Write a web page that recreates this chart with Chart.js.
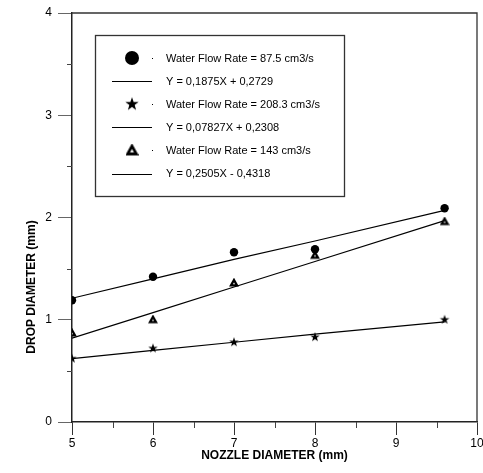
<!DOCTYPE html>
<html><head><meta charset="utf-8">
<script src="https://cdn.jsdelivr.net/npm/chart.js@4/dist/chart.umd.min.js"></script>
<style>html,body{margin:0;padding:0;background:#fff}canvas{display:block}</style>
</head><body>
<canvas id="c" width="483" height="473"></canvas>
<script>
// ---- data ----
const nozzleDiameters = [5, 6, 7, 8, 9.6];
const drop875 = [1.19, 1.42, 1.66, 1.69, 2.09];
const drop2083 = [0.62, 0.72, 0.78, 0.83, 1.00];
const drop143 = [0.87, 1.00, 1.36, 1.63, 1.96];
const fit875 = [1.21, 1.40, 1.59, 1.77, 2.07];
const fit2083 = [0.62, 0.70, 0.78, 0.86, 0.98];
const fit143 = [0.82, 1.07, 1.32, 1.57, 1.97];
const seriesLabels = [
  'Water Flow Rate = 87.5 cm3/s', 'Y = 0,1875X + 0,2729',
  'Water Flow Rate = 208.3 cm3/s', 'Y = 0,07827X + 0,2308',
  'Water Flow Rate = 143 cm3/s', 'Y = 0,2505X - 0,4318'
];
const xTitle = 'NOZZLE DIAMETER (mm)';
const yTitle = 'DROP DIAMETER (mm)';
const xMin = 5, xMax = 10, yMin = 0, yMax = 4;

function pts(xs, ys) { return xs.map((x, i) => ({x: x, y: ys[i]})); }

function starCanvas(R, r) {
  const s = Math.ceil(2 * R + 2);
  const c = document.createElement('canvas'); c.width = s; c.height = s;
  const g = c.getContext('2d'); g.fillStyle = '#000'; g.beginPath();
  for (let i = 0; i < 10; i++) {
    const a = -Math.PI / 2 + i * Math.PI / 5, rad = i % 2 ? r : R;
    g.lineTo(s / 2 + rad * Math.cos(a), s / 2 + rad * Math.sin(a));
  }
  g.closePath(); g.fill(); return c;
}
function triCanvas(h, lw) {
  const s = Math.ceil(2 * h + 4);
  const c = document.createElement('canvas'); c.width = s; c.height = s;
  const g = c.getContext('2d'); const m = s / 2;
  g.beginPath(); g.moveTo(m, m - h); g.lineTo(m + h, m + h * 0.8); g.lineTo(m - h, m + h * 0.8); g.closePath();
  g.fillStyle = '#fff'; g.fill(); g.lineWidth = lw; g.lineJoin = 'miter'; g.strokeStyle = '#000'; g.stroke();
  return c;
}
const plotStar = starCanvas(5, 2);
const legendStar = starCanvas(7, 2.8);
const plotTri = triCanvas(3, 2.3);
const legendTri = triCanvas(4.4, 2.8);

const FONT = '"Liberation Sans", Arial, sans-serif';

const decor = {
  id: 'decor',
  afterDraw(chart) {
    const ctx = chart.ctx, a = chart.chartArea;
    const xs = chart.scales.x, ys = chart.scales.y;
    ctx.save();
    ctx.strokeStyle = '#333'; ctx.lineWidth = 1.3;
    ctx.beginPath();
    ctx.moveTo(a.left, a.top); ctx.lineTo(a.right, a.top); ctx.lineTo(a.right, a.bottom);
    ctx.stroke();
    ctx.lineWidth = 1; ctx.strokeStyle = '#444';
    ctx.beginPath();
    for (let v = xMin + 0.5; v < xMax; v += 1) {
      const p = Math.round(xs.getPixelForValue(v)) + 0.5;
      ctx.moveTo(p, a.bottom); ctx.lineTo(p, a.bottom + 6);
    }
    for (let v = yMin + 0.5; v < yMax; v += 1) {
      const p = Math.round(ys.getPixelForValue(v)) + 0.5;
      ctx.moveTo(a.left - 5, p); ctx.lineTo(a.left, p);
    }
    ctx.stroke();
    ctx.fillStyle = '#000';
    ctx.font = 'bold 12px ' + FONT;
    ctx.textAlign = 'center'; ctx.textBaseline = 'middle';
    ctx.fillText(xTitle, (a.left + a.right) / 2, 456);
    ctx.translate(32, 287); ctx.rotate(-Math.PI / 2);
    ctx.fillText(yTitle, 0, 0);
    ctx.restore();

    // legend
    ctx.save();
    const bx = 95.5, by = 35.5, bw = 249, bh = 161;
    ctx.fillStyle = '#fff'; ctx.fillRect(bx, by, bw, bh);
    ctx.strokeStyle = '#333'; ctx.lineWidth = 1.3; ctx.strokeRect(bx, by, bw, bh);
    ctx.font = '11px ' + FONT; ctx.textBaseline = 'middle'; ctx.textAlign = 'left';
    const rowY0 = 58, rowH = 23.1, symX = 132, textX = 166;
    seriesLabels.forEach((lab, i) => {
      const y = rowY0 + i * rowH;
      ctx.fillStyle = '#000'; ctx.strokeStyle = '#000';
      if (i % 2 === 1) {
        ctx.lineWidth = 1; ctx.beginPath();
        ctx.moveTo(112, Math.round(y) + 0.5); ctx.lineTo(152, Math.round(y) + 0.5); ctx.stroke();
      } else {
        if (i === 0) { ctx.beginPath(); ctx.arc(symX, y, 7, 0, Math.PI * 2); ctx.fill(); }
        else {
          const img = i === 2 ? legendStar : legendTri;
          ctx.drawImage(img, symX - img.width / 2, y - img.height / 2);
        }
        ctx.fillRect(152, Math.round(y), 1, 1);
      }
      ctx.fillText(lab, textX, y + 0.5);
    });
    ctx.restore();
  }
};

new Chart(document.getElementById('c'), {
  type: 'scatter',
  data: {
    datasets: [
      {label: seriesLabels[0], data: pts(nozzleDiameters, drop875), pointStyle: 'circle', pointRadius: 4.2, backgroundColor: '#000', borderColor: '#000', borderWidth: 0, order: 0},
      {label: seriesLabels[2], data: pts(nozzleDiameters, drop2083), pointStyle: plotStar, pointRadius: 5, backgroundColor: '#000', borderColor: '#000', order: 0},
      {label: seriesLabels[4], data: pts(nozzleDiameters, drop143), pointStyle: plotTri, pointRadius: 4, backgroundColor: '#000', borderColor: '#000', order: 0},
      {type: 'line', label: seriesLabels[1], data: pts(nozzleDiameters, fit875), borderColor: '#000', borderWidth: 1.2, pointRadius: 0, fill: false, tension: 0, order: 1},
      {type: 'line', label: seriesLabels[3], data: pts(nozzleDiameters, fit2083), borderColor: '#000', borderWidth: 1.2, pointRadius: 0, fill: false, tension: 0, order: 1},
      {type: 'line', label: seriesLabels[5], data: pts(nozzleDiameters, fit143), borderColor: '#000', borderWidth: 1.2, pointRadius: 0, fill: false, tension: 0, order: 1}
    ]
  },
  options: {
    responsive: false, animation: false, devicePixelRatio: 1,
    layout: {padding: {left: 0, right: 1, top: 13, bottom: 0}},
    plugins: {legend: {display: false}, tooltip: {enabled: false}},
    scales: {
      x: {
        type: 'linear', min: xMin, max: xMax,
        ticks: {stepSize: 1, color: '#000', font: {family: FONT, size: 12}, padding: 1, maxRotation: 0, autoSkip: false},
        grid: {drawOnChartArea: false, drawTicks: true, tickLength: 13, tickColor: '#333', tickWidth: 1},
        border: {display: true, color: '#222', width: 1.5},
        afterFit(s) { s.height = 51; s.paddingLeft = 0; s.paddingRight = 0; }
      },
      y: {
        min: yMin, max: yMax,
        ticks: {stepSize: 1, color: '#000', font: {family: FONT, size: 12}, padding: 6},
        grid: {drawOnChartArea: false, drawTicks: true, tickLength: 14, tickColor: '#666', tickWidth: 1},
        border: {display: true, color: '#222', width: 1.5},
        afterFit(s) { s.width = 72; s.paddingTop = 0; s.paddingBottom = 0; }
      }
    }
  },
  plugins: [decor]
});
</script>
</body></html>
